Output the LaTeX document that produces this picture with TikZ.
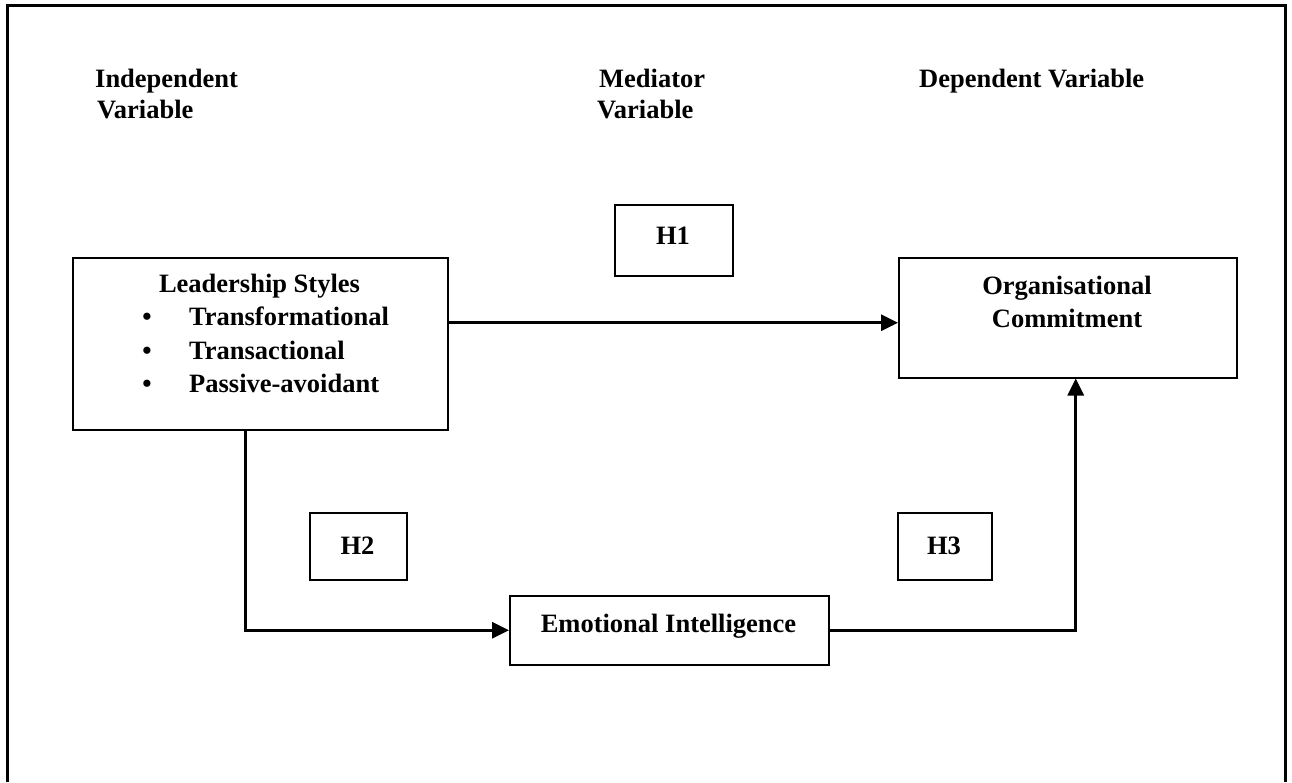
\documentclass[tikz,border=0pt]{standalone}
\usepackage{fontspec}
\setmainfont{Liberation Serif}
\usetikzlibrary{arrows.meta}
\begin{document}
\begin{tikzpicture}[x=1pt,y=-1pt,
  box/.style={draw, line width=1.5pt, inner sep=0pt, anchor=north west},
  lbl/.style={font=\bfseries\fontsize{26.5}{32}\selectfont, inner sep=0pt, anchor=base west},
  lblc/.style={lbl, anchor=base},
  link/.style={line width=3pt, -{Triangle[length=17pt,width=16pt]}},
  frame/.style={line width=3pt}
]
\useasboundingbox (0,0) rectangle (1292,782);

% outer frame (open at the bottom)
\draw[frame] (7,782) -- (7,5) -- (1285,5) -- (1285,782);

% column headings
\node[lbl] (iv1) at (95,87) {Independent};
\node[lbl] (iv2) at (97,118) {Variable};
\node[lbl] (mv1) at (599,87) {Mediator};
\node[lbl] (mv2) at (597,118) {Variable};
\node[lbl] (dv) at (919,87) {Dependent Variable};

% boxes
\node[box, minimum width=375pt, minimum height=172pt] (lead) at (72,257) {};
\node[box, minimum width=338pt, minimum height=120pt] (org) at (898,257) {};
\node[box, minimum width=319pt, minimum height=69pt] (ei) at (509,595) {};
\node[box, minimum width=118pt, minimum height=71pt] (h1) at (614,204) {};
\node[box, minimum width=97pt, minimum height=67pt] (h2) at (309,512) {};
\node[box, minimum width=94pt, minimum height=67pt] (h3) at (897,512) {};

% box texts
\node[lblc] (ls) at (259.5,292) {Leadership Styles};
\node[lblc] (d1) at (147,325) {•};
\node[lblc] (d2) at (147,359) {•};
\node[lblc] (d3) at (147,392) {•};
\node[lbl] (s1) at (189,325) {Transformational};
\node[lbl] (s2) at (189,359) {Transactional};
\node[lbl] (s3) at (189,392) {Passive-avoidant};
\node[lblc] (oc1) at (1067,294) {Organisational};
\node[lblc] (oc2) at (1067,327) {Commitment};
\node[lblc] (eit) at (668.5,632) {Emotional Intelligence};
\node[lblc] (t1) at (673,244) {H1};
\node[lblc] (t2) at (357.5,554) {H2};
\node[lblc] (t3) at (944,554) {H3};

% connectors
\coordinate (a) at ([yshift=21pt]lead.east);
\draw[link] (a) -- (a -| org.west);
\coordinate (b) at ([xshift=-14.5pt]lead.south);
\draw[link] (b) |- (ei.west);
\coordinate (c) at ([xshift=8pt]org.south);
\draw[link] (ei.east) -| (c);
\end{tikzpicture}
\end{document}
